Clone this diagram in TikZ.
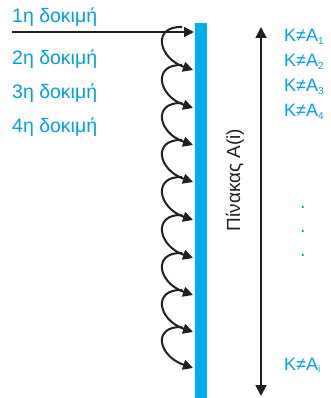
\documentclass[tikz,border=0pt]{standalone}
\usepackage{fontspec}
\setmainfont{Liberation Sans}
\usetikzlibrary{arrows.meta}
\definecolor{cyantext}{RGB}{0,160,227}
\definecolor{barblue}{RGB}{0,174,239}
\definecolor{darktext}{RGB}{35,31,32}
\newcommand{\lowidx}[1]{\raisebox{-0.3ex}{\fontsize{10}{10}\selectfont #1}}
\begin{document}
\begin{tikzpicture}[x=1pt,y=-1pt,
  lbl/.style={text=cyantext,font=\fontsize{18}{18}\selectfont,inner sep=0pt,anchor=base west},
  trial/.style={lbl,font=\fontsize{19.5}{19.5}\selectfont},
  hookarrow/.style={draw=darktext,line width=2pt,-{Triangle[length=10pt,width=10pt]}},
  bigarrow/.style={draw=darktext,line width=1.8pt,{Triangle[length=11pt,width=11pt]}-{Triangle[length=11pt,width=11pt]}}]
\useasboundingbox (0,0) rectangle (330,398);
% blue bar
\fill[barblue] (195,23) rectangle (207,398);
% left labels
\node[trial] (t1) at (12,23) {1η δοκιμή};
\node[trial] (t2) at (12,65) {2η δοκιμή};
\node[trial] (t3) at (12,99) {3η δοκιμή};
\node[trial] (t4) at (12,132) {4η δοκιμή};
% arrow tips on the bar
\foreach \i/\y in {0/32,1/70,2/108,3/145,4/182,5/220,6/258,7/295,8/332,9/368}{
  \coordinate (p\i) at (194,\y);
}
\coordinate (start) at (12,32);
\foreach \i [count=\j from 1] in {0,...,8}{
  \draw[hookarrow] ([xshift=-12pt,yshift=5pt]p\i) .. controls +(-30,-1) and +(-35,-12) .. ([xshift=-1pt]p\j);
}
\draw[hookarrow] (start) -- (p0);
% right arrow
\coordinate (atop) at (261,27);
\coordinate (abot) at (261,396);
\draw[bigarrow] (atop) -- (abot);
% table label
\node[rotate=90,text=darktext,font=\fontsize{19}{19}\selectfont,inner sep=0pt] (tab) at (235,180) {Πίνακας A(i)};
% K labels
\node[lbl] (k1) at (284,42) {K≠A\lowidx{1}};
\node[lbl] (k2) at (284,67) {K≠A\lowidx{2}};
\node[lbl] (k3) at (284,92) {K≠A\lowidx{3}};
\node[lbl] (k4) at (284,117) {K≠A\lowidx{4}};
\node[lbl] (ki) at (284,370) {K≠A\lowidx{i}};
\foreach \k/\y in {1/208,2/232,3/256}{
  \node[lbl,anchor=base,font=\fontsize{20}{20}\selectfont] (d\k) at (303,\y) {.};
}
\end{tikzpicture}
\end{document}
